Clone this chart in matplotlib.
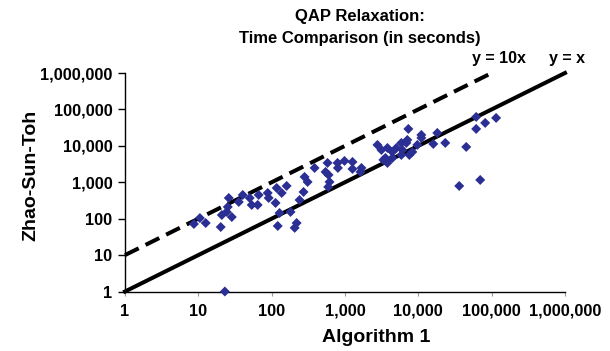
import matplotlib
matplotlib.use("Agg")
import matplotlib.pyplot as plt
from matplotlib.ticker import FixedLocator, FuncFormatter, NullLocator

# Data (seconds)
alg1 = [8.7, 10.5, 12.6, 20.2, 20.9, 24.4, 26, 28.6, 25.2, 35.6,
        40.3, 50.2, 53.4, 64.5, 66.5, 88.3, 91, 113, 117, 137,
        160, 128, 121, 219, 181, 206, 240, 272, 281, 309,
        385, 543, 597, 615, 590, 578, 791, 800, 984, 1265,
        1265, 1625, 1676, 2770, 3140, 3790, 3560, 3790, 4430, 5020,
        3340, 4430, 5870, 6060, 6870, 7080, 7310, 7540, 8280, 5870,
        9690, 10990, 10990, 16000, 18140, 23300, 45000, 36100, 61500, 61500,
        81600, 115000, 69800, 23]
zst = [71.5, 104, 76, 59, 126, 153, 370, 111, 210, 288,
       448, 370, 238, 238, 448, 508, 370, 270, 697, 508,
       791, 143, 63, 76, 153, 56, 326, 541, 1400, 1019,
       2470, 1919, 1587, 1019, 743, 3390, 3390, 2470, 3850, 3610,
       2320, 1919, 2470, 10590, 7710, 8750, 4650, 3390, 6800, 8750,
       4100, 4650, 12020, 7710, 12020, 14520, 29130, 5620, 6800, 5620,
       10590, 19920, 16480, 11270, 22600, 12020, 9330, 791, 62200, 29130,
       42600, 58400, 1157, 1]

ref_x = [1, 1e6]
ref_y_x = [1, 1e6]
ref10_x = [1, 1e5]
ref10_y = [10, 1e6]

ticks = [1, 10, 100, 1000, 10000, 100000, 1000000]

plt.rcParams['font.family'] = ['Liberation Sans', 'DejaVu Sans']

fig = plt.figure(figsize=(6.10, 3.51), dpi=100)
ax = fig.add_axes([125/610, 1 - 291.5/351, 440/610, (291.5 - 73)/351])

ax.plot(ref10_x, ref10_y, color='black', lw=2.9, ls=(0, (3.8, 1.9)), solid_capstyle='butt', zorder=2, clip_on=False)
ax.plot(ref_x, ref_y_x, color='black', lw=2.9, zorder=2, clip_on=False)
ax.scatter(alg1, zst, marker='D', s=26, color='#2B2F94', edgecolors='none', zorder=3, clip_on=False)

ax.set_xscale('log')
ax.set_yscale('log')
ax.set_xlim(1, 1e6)
ax.set_ylim(1, 1e6)
ax.xaxis.set_major_locator(FixedLocator(ticks))
ax.yaxis.set_major_locator(FixedLocator(ticks))
ax.xaxis.set_minor_locator(NullLocator())
ax.yaxis.set_minor_locator(NullLocator())
fmt = FuncFormatter(lambda v, p: f"{int(round(v)):,}")
ax.xaxis.set_major_formatter(fmt)
ax.yaxis.set_major_formatter(fmt)

for s in ['top', 'right']:
    ax.spines[s].set_visible(False)
for s in ['left', 'bottom']:
    ax.spines[s].set_linewidth(1.0)
    ax.spines[s].set_color('black')

ax.tick_params(axis='y', direction='out', length=5, width=1, pad=4, labelsize=11.8)
ax.tick_params(axis='x', direction='out', length=3, width=0.8, color='#999999', pad=6, labelsize=11.8)
for lab in ax.get_xticklabels() + ax.get_yticklabels():
    lab.set_fontweight('bold')

fig.text(376/610, 1 - 337/351, 'Algorithm 1', ha='center', va='center', fontsize=14, fontweight='bold')
fig.text(31/610, 1 - 175/351, 'Zhao-Sun-Toh', ha='center', va='center', rotation=90,
         fontsize=14, fontweight='bold')

fig.text(360/610, 1 - 16/351, 'QAP Relaxation:', ha='center', va='center',
         fontsize=12, fontweight='bold')
fig.text(360/610, 1 - 38/351, 'Time Comparison (in seconds)', ha='center', va='center',
         fontsize=12, fontweight='bold')
fig.text(499/610, 1 - 58/351, 'y = 10x', ha='center', va='center', fontsize=11.5, fontweight='bold')
fig.text(567/610, 1 - 58/351, 'y = x', ha='center', va='center', fontsize=11.5, fontweight='bold')

fig.savefig('out.png', dpi=100)
